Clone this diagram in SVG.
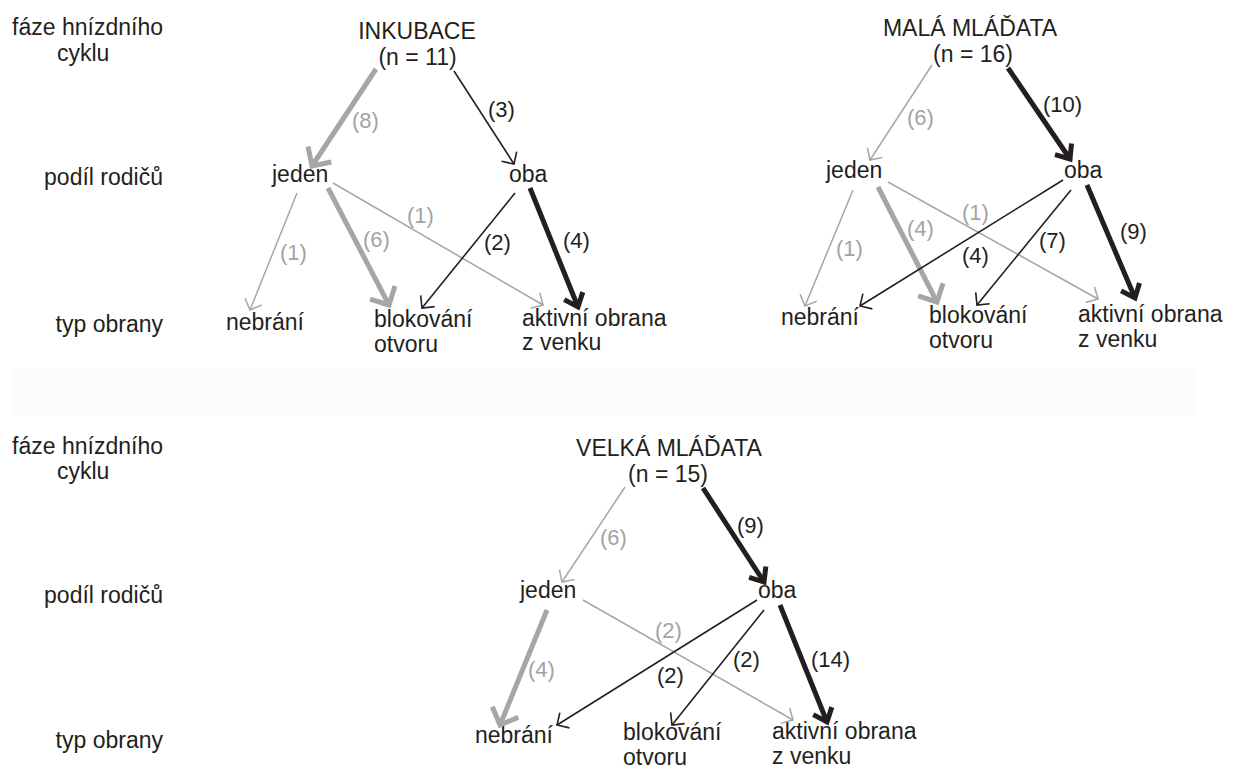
<svg xmlns="http://www.w3.org/2000/svg" width="1234" height="769" viewBox="0 0 1234 769">
<style>
text{font-family:"Liberation Sans",Arial,Helvetica,sans-serif;font-size:23px;fill:#231f20}
.lbl{font-size:22px}
.g{fill:#a3a3a3}
.mid{text-anchor:middle}
.end{text-anchor:end}
line{fill:none}
.tg{stroke:#a6a6a6;stroke-width:1.5}
.tb{stroke:#231f20;stroke-width:1.6}
.kg{stroke:#a6a6a6;stroke-width:5}
.kb{stroke:#231f20;stroke-width:5}
.tg{marker-end:url(#m-tg)}
.tb{marker-end:url(#m-tb)}
.kg{marker-end:url(#m-kg)}
.kb{marker-end:url(#m-kb)}
</style>
<defs>
<marker id="m-tg" markerUnits="userSpaceOnUse" viewBox="-12 -12 14 24" markerWidth="14" markerHeight="24" refX="0" refY="0" orient="auto" overflow="visible"><path d="M-9,-9 L0,0 L-9,9" fill="none" stroke="#a6a6a6" stroke-width="1.5"/></marker>
<marker id="m-tb" markerUnits="userSpaceOnUse" viewBox="-12 -12 14 24" markerWidth="14" markerHeight="24" refX="0" refY="0" orient="auto" overflow="visible"><path d="M-9,-9 L0,0 L-9,9" fill="none" stroke="#231f20" stroke-width="1.6"/></marker>
<marker id="m-kg" markerUnits="userSpaceOnUse" viewBox="-18 -18 20 36" markerWidth="20" markerHeight="36" refX="0" refY="0" orient="auto" overflow="visible"><path d="M-14,-14 L0,0 L-14,14" fill="none" stroke="#a6a6a6" stroke-width="5"/></marker>
<marker id="m-kb" markerUnits="userSpaceOnUse" viewBox="-18 -18 20 36" markerWidth="20" markerHeight="36" refX="0" refY="0" orient="auto" overflow="visible"><path d="M-12,-10 L0,0 L-12,10" fill="none" stroke="#231f20" stroke-width="5"/></marker>
</defs>
<rect x="0" y="0" width="1234" height="769" fill="#ffffff"/>
<rect x="12" y="369" width="1182" height="46" fill="#fcfcfc"/>

<g id="row-labels-top">
<text x="163" y="35" class="end">fáze hnízdního</text>
<text x="57" y="61">cyklu</text>
<text x="163" y="185" class="end">podíl rodičů</text>
<text x="163" y="332" class="end">typ obrany</text>
</g>
<g id="row-labels-bottom">
<text x="163" y="454" class="end">fáze hnízdního</text>
<text x="57" y="479">cyklu</text>
<text x="163" y="603" class="end">podíl rodičů</text>
<text x="163" y="748" class="end">typ obrany</text>
</g>

<!-- Panel 1 -->
<g id="p1-title"><text x="417" y="39" class="mid">INKUBACE</text><text x="417.5" y="65" class="mid">(n = 11)</text></g>
<g id="p1-jeden"><text x="272" y="182">jeden</text></g>
<g id="p1-oba"><text x="509" y="182">oba</text></g>
<g id="p1-nebrani"><text x="226" y="330">nebrání</text></g>
<g id="p1-blokovani"><text x="374" y="327">blokování</text><text x="374" y="352">otvoru</text></g>
<g id="p1-aktivni"><text x="522" y="326">aktivní obrana</text><text x="522" y="350">z venku</text></g>

<!-- Panel 2 -->
<g id="p2-title"><text x="970" y="36" class="mid">MALÁ MLÁĎATA</text><text x="973" y="62" class="mid">(n = 16)</text></g>
<g id="p2-jeden"><text x="826" y="178">jeden</text></g>
<g id="p2-oba"><text x="1064" y="178">oba</text></g>
<g id="p2-nebrani"><text x="781" y="325">nebrání</text></g>
<g id="p2-blokovani"><text x="929" y="323">blokování</text><text x="929" y="348">otvoru</text></g>
<g id="p2-aktivni"><text x="1078" y="322">aktivní obrana</text><text x="1078" y="347">z venku</text></g>

<!-- Panel 3 -->
<g id="p3-title"><text x="669" y="456" class="mid">VELKÁ MLÁĎATA</text><text x="668" y="482" class="mid">(n = 15)</text></g>
<g id="p3-jeden"><text x="520" y="598">jeden</text></g>
<g id="p3-oba"><text x="758" y="598">oba</text></g>
<g id="p3-nebrani"><text x="475" y="743">nebrání</text></g>
<g id="p3-blokovani"><text x="623" y="740">blokování</text><text x="623" y="765">otvoru</text></g>
<g id="p3-aktivni"><text x="772" y="739">aktivní obrana</text><text x="772" y="764">z venku</text></g>

<g id="connectors">
<!-- Panel 1 -->
<line class="kg" x1="376" y1="69" x2="312" y2="166"/>
<line class="tb" x1="454" y1="71" x2="514" y2="164"/>
<line class="tg" x1="297" y1="193" x2="250" y2="310"/>
<line class="kg" x1="328" y1="188" x2="389" y2="305"/>
<line class="tg" x1="333" y1="183" x2="543" y2="305"/>
<line class="tb" x1="515" y1="193" x2="422" y2="308"/>
<line class="kb" x1="530" y1="188" x2="578" y2="307"/>
<!-- Panel 2 -->
<line class="tg" x1="932" y1="65" x2="870" y2="160"/>
<line class="kb" x1="1008" y1="68" x2="1070" y2="159"/>
<line class="tg" x1="853" y1="190" x2="805" y2="306"/>
<line class="kg" x1="878" y1="187" x2="937" y2="302"/>
<line class="tg" x1="888" y1="182" x2="1098" y2="299"/>
<line class="tb" x1="1063" y1="180" x2="860" y2="306"/>
<line class="tb" x1="1071" y1="190" x2="977" y2="305"/>
<line class="kb" x1="1087" y1="185" x2="1135" y2="298"/>
<!-- Panel 3 -->
<line class="tg" x1="625" y1="487" x2="562" y2="582"/>
<line class="kb" x1="703" y1="488" x2="764" y2="582"/>
<line class="kg" x1="547" y1="610" x2="500" y2="725"/>
<line class="tg" x1="583" y1="600" x2="793" y2="720"/>
<line class="tb" x1="757" y1="600" x2="557" y2="725"/>
<line class="tb" x1="764" y1="610" x2="672" y2="725"/>
<line class="kb" x1="780" y1="605" x2="827" y2="722"/>
</g>

<g id="connector-labels">
<text class="lbl g" x="352" y="128">(8)</text>
<text class="lbl" x="488" y="117">(3)</text>
<text class="lbl g" x="280" y="260">(1)</text>
<text class="lbl g" x="363" y="247">(6)</text>
<text class="lbl g" x="407" y="223">(1)</text>
<text class="lbl" x="484" y="250">(2)</text>
<text class="lbl" x="563" y="248">(4)</text>

<text class="lbl g" x="907" y="125">(6)</text>
<text class="lbl" x="1043" y="112">(10)</text>
<text class="lbl g" x="836" y="256">(1)</text>
<text class="lbl g" x="907" y="236">(4)</text>
<text class="lbl g" x="962" y="220">(1)</text>
<text class="lbl" x="962" y="263">(4)</text>
<text class="lbl" x="1039" y="248">(7)</text>
<text class="lbl" x="1120" y="239">(9)</text>

<text class="lbl g" x="600" y="545">(6)</text>
<text class="lbl" x="737" y="533">(9)</text>
<text class="lbl g" x="528" y="677">(4)</text>
<text class="lbl g" x="655" y="638">(2)</text>
<text class="lbl" x="657" y="683">(2)</text>
<text class="lbl" x="733" y="667">(2)</text>
<text class="lbl" x="811" y="667">(14)</text>
</g>
</svg>
